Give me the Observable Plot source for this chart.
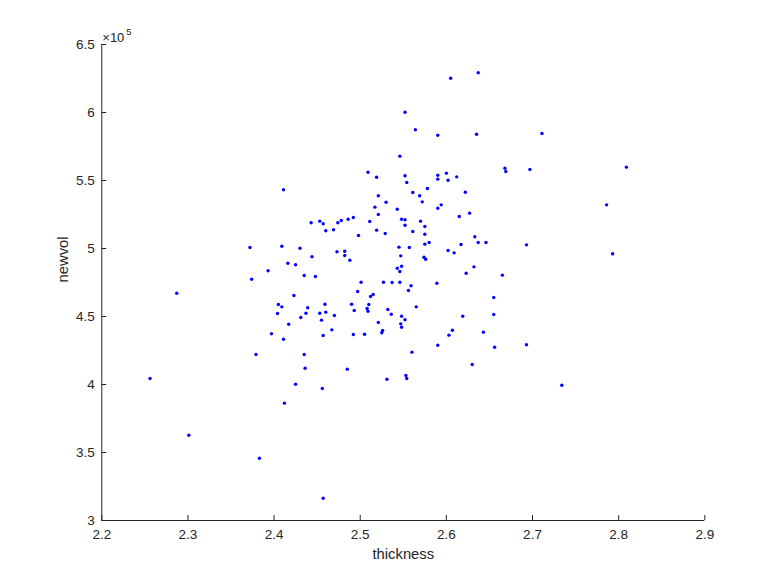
<!DOCTYPE html>
<html>
<head>
<meta charset="utf-8">
<script src="https://cdn.jsdelivr.net/npm/d3@7"></script>
<script src="https://cdn.jsdelivr.net/npm/@observablehq/plot@0.6"></script>
<style>
  html, body { margin: 0; padding: 0; background: #fff; }
  #chart { width: 778px; height: 583px; }
</style>
</head>
<body>
<div id="chart"></div>
<script>
const thickness = [
  2.411, 2.605, 2.637, 2.552, 2.564, 2.590, 2.635, 2.546, 2.509, 2.519,
  2.552, 2.554, 2.590, 2.590, 2.600, 2.602, 2.612, 2.578, 2.561, 2.569,
  2.572, 2.622, 2.521, 2.530, 2.594, 2.711, 2.668, 2.669, 2.697, 2.809,
  2.786, 2.372, 2.409, 2.430, 2.416, 2.425, 2.393, 2.435, 2.374, 2.287,
  2.423, 2.405, 2.409, 2.404, 2.431, 2.437, 2.417, 2.397, 2.411, 2.379,
  2.435, 2.517, 2.543, 2.590, 2.521, 2.443, 2.453, 2.457, 2.460, 2.469,
  2.474, 2.478, 2.486, 2.492, 2.498, 2.511, 2.519, 2.529, 2.548, 2.552,
  2.552, 2.561, 2.570, 2.575, 2.575, 2.575, 2.580, 2.545, 2.557, 2.547,
  2.574, 2.576, 2.615, 2.627, 2.633, 2.637, 2.646, 2.617, 2.602, 2.609,
  2.632, 2.623, 2.473, 2.482, 2.482, 2.488, 2.444, 2.543, 2.548, 2.546,
  2.448, 2.501, 2.527, 2.537, 2.546, 2.589, 2.559, 2.556, 2.497, 2.515,
  2.512, 2.655, 2.490, 2.510, 2.459, 2.439, 2.453, 2.460, 2.493, 2.508,
  2.509, 2.532, 2.536, 2.565, 2.470, 2.455, 2.548, 2.552, 2.619, 2.655,
  2.521, 2.547, 2.548, 2.467, 2.457, 2.492, 2.505, 2.526, 2.525, 2.607,
  2.603, 2.643, 2.590, 2.656, 2.560, 2.693, 2.793, 2.665, 2.693, 2.256,
  2.425, 2.412, 2.301, 2.383, 2.436, 2.485, 2.456, 2.531, 2.553, 2.554,
  2.630, 2.457, 2.734
];
const newvol = [
  543200, 625200, 629200, 600200, 587300, 583300, 584000, 567900, 556100, 552400,
  553500, 548500, 553900, 551000, 555400, 550200, 552700, 544100, 541200, 538800,
  534300, 541400, 538800, 534000, 532100, 584600, 559000, 556600, 558100, 559800,
  532100, 500700, 501700, 500200, 489200, 488000, 483600, 480100, 477400, 467100,
  465400, 458800, 457100, 452200, 449300, 452400, 444300, 437300, 433300, 422100,
  422100, 530400, 528900, 529600, 525000, 518900, 520100, 518200, 513000, 513800,
  518900, 520600, 521500, 522800, 509600, 519900, 513500, 511000, 521500, 521100,
  517100, 512500, 520100, 516200, 510500, 503200, 504400, 501000, 500700, 494600,
  493600, 492100, 523500, 526000, 508600, 504400, 504400, 502900, 498500, 496800,
  486500, 481800, 497600, 498000, 494900, 491400, 493900, 485500, 487000, 483100,
  479400, 475200, 475200, 475000, 475200, 474500, 472600, 469100, 468400, 466200,
  464700, 464000, 459000, 458800, 459000, 456400, 452400, 453200, 454400, 455900,
  453900, 455100, 451700, 457100, 450700, 447300, 450200, 447600, 450200, 451500,
  445600, 444600, 442100, 440200, 436000, 436800, 437000, 439700, 438000, 439900,
  436300, 438500, 428900, 427400, 423800, 502700, 496100, 480400, 429200, 404400,
  400200, 386300, 362700, 345800, 412000, 411300, 397100, 403900, 406600, 404400,
  414700, 316400, 399500
];
const xTicks = [2.2, 2.3, 2.4, 2.5, 2.6, 2.7, 2.8, 2.9];
const yTicks = [300000, 350000, 400000, 450000, 500000, 550000, 600000, 650000];
const xLabel = "thickness";
const yLabel = "newvol";
const exponentBase = "×10";
const exponentPower = "5";

const data = thickness.map((t, i) => ({thickness: t, newvol: newvol[i]}));

const W = 778, H = 583;
const mL = 101.3, mR = 73.7, mT = 44, mB = 63;
const frameW = W - mL - mR, frameH = H - mT - mB;
const ink = "#262626";

const chart = Plot.plot({
  width: W,
  height: H,
  marginLeft: mL,
  marginRight: mR,
  marginTop: mT,
  marginBottom: mB,
  style: {fontFamily: "'Liberation Sans', Arial, Helvetica, sans-serif", color: ink, background: "#fff", overflow: "visible"},
  x: {domain: [2.2, 2.9], label: null},
  y: {domain: [300000, 650000], label: null},
  marks: [
    Plot.axisX({ticks: xTicks, tickSize: 0, tickPadding: 8.5, fontSize: 13.5, tickFormat: d3.format(".1f"), label: null}),
    Plot.axisY({ticks: yTicks, tickSize: 0, tickPadding: 7, fontSize: 13.5, tickFormat: d => String(+(d / 1e5).toFixed(1)), label: null}),
    Plot.ruleX(xTicks, {x: d => d, insetTop: frameH - 5, stroke: ink, strokeWidth: 1}),
    Plot.ruleY(yTicks, {y: d => d, insetRight: frameW - 5, stroke: ink, strokeWidth: 1}),
    Plot.ruleX([2.2], {stroke: ink, strokeWidth: 1}),
    Plot.ruleY([300000], {stroke: ink, strokeWidth: 1}),
    Plot.dot(data, {x: "thickness", y: "newvol", r: 1.7, fill: "#0000ff", stroke: null}),
    Plot.text([xLabel], {frameAnchor: "bottom", lineAnchor: "middle", dy: 33.5, fontSize: 14.8, fill: ink}),
    Plot.text([yLabel], {frameAnchor: "left", lineAnchor: "middle", dx: -39, rotate: -90, fontSize: 14.8, fill: ink}),
    Plot.text([exponentBase], {frameAnchor: "top-left", lineAnchor: "middle", textAnchor: "start", dx: 0.5, dy: -7, fontSize: 13, fill: ink}),
    Plot.text([exponentPower], {frameAnchor: "top-left", lineAnchor: "middle", textAnchor: "start", dx: 24.5, dy: -12.5, fontSize: 9.5, fill: ink})
  ]
});
document.getElementById("chart").appendChild(chart);
</script>
</body>
</html>
